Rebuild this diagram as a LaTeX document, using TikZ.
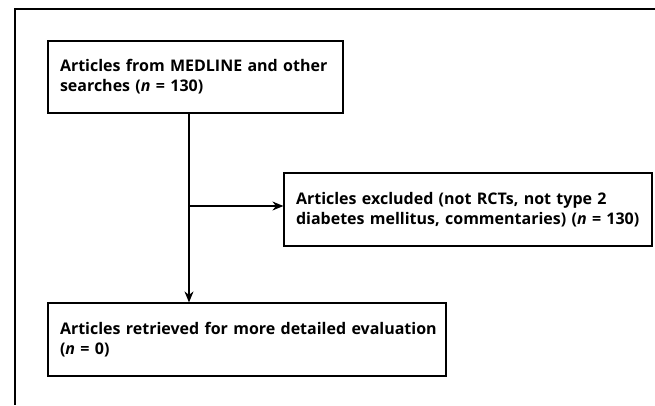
\documentclass[tikz,border=0pt]{standalone}
\usepackage{fontspec}
\setmainfont{Open Sans}
\usetikzlibrary{arrows.meta}

\begin{document}
\begin{tikzpicture}[x=1pt, y=-1pt, line width=1.2pt,
  every node/.style={draw, rectangle, align=left, inner xsep=12pt, font=\fontsize{16}{20}\selectfont\bfseries},
  arr/.style={-{Stealth[length=11pt, width=9pt]}}]

\useasboundingbox (0,0) rectangle (655,405);
\draw (655,9) -- (15,9) -- (15,405);

\node[minimum width=295pt, minimum height=72pt, text width=271pt] (search) at (195.5,77) {Articles from MEDLINE and other\\searches (\textit{n} = 130)};
\node[minimum width=368pt, minimum height=73pt, text width=344pt] (excluded) at (468,209.5) {Articles excluded (not RCTs, not type 2\\diabetes mellitus, commentaries) (\textit{n} = 130)};
\node[minimum width=398pt, minimum height=73pt, text width=374pt] (retrieved) at (247,339.5) {\mbox{Articles retrieved for more detailed evaluation}\\(\textit{n} = 0)};

\coordinate (split) at (189,206);
\draw[arr] (search.south -| split) -- (retrieved.north -| split);
\draw[arr] (split) -- (excluded.west |- split);

\end{tikzpicture}
\end{document}
